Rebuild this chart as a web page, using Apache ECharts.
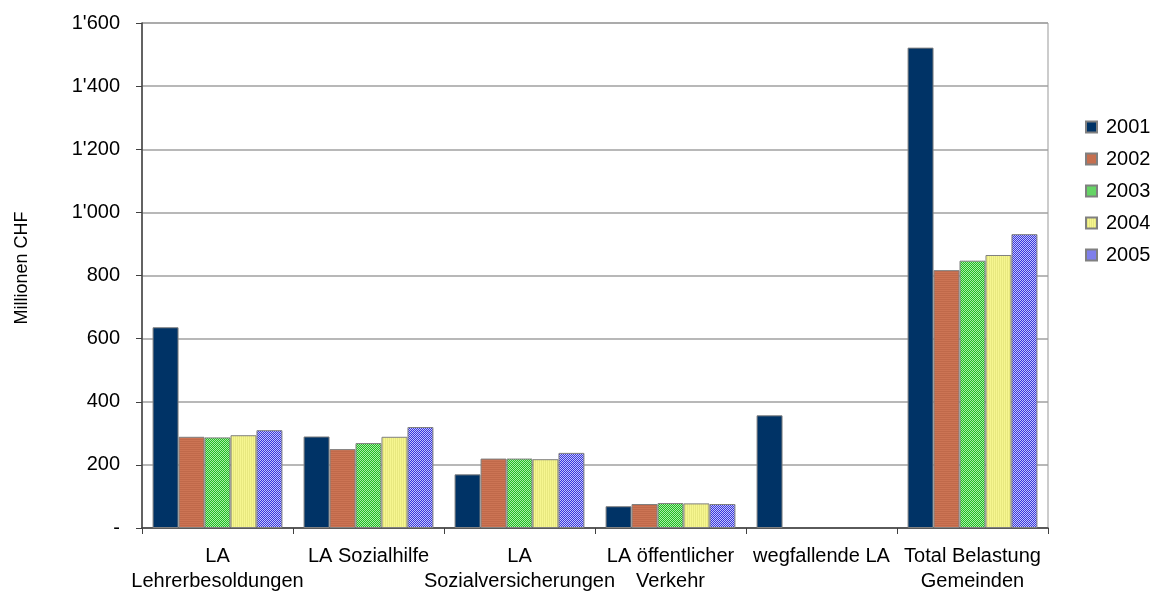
<!DOCTYPE html>
<html>
<head>
<meta charset="utf-8">
<script src="https://cdn.jsdelivr.net/npm/echarts@6/dist/echarts.min.js"></script>
<style>
  html, body { margin: 0; padding: 0; background: #fff; }
  #chart { width: 1153px; height: 594px; }
</style>
</head>
<body>
<div id="chart"></div>
<script>
// Kategorien der Lastenausgleiche (LA)
const categories = [
  'LA\nLehrerbesoldungen',
  'LA Sozialhilfe',
  'LA\nSozialversicherungen',
  'LA öffentlicher\nVerkehr',
  'wegfallende LA',
  'Total Belastung\nGemeinden'
];
const years = ['2001', '2002', '2003', '2004', '2005'];

// Belastung in Millionen CHF je Jahr
const values2001 = [636, 290, 170, 69, 357, 1522];
const values2002 = [289, 250, 220, 76, null, 817];
const values2003 = [287, 269, 220, 79, null, 847];
const values2004 = [294, 289, 218, 78, null, 865];
const values2005 = [310, 320, 238, 76, null, 931];

const yTicks = [0, 200, 400, 600, 800, 1000, 1200, 1400, 1600];

const FONT = 'Liberation Sans, Arial, sans-serif';

// small repeating fill patterns
function pattern(w, h, paint) {
  const c = document.createElement('canvas');
  c.width = w; c.height = h;
  const g = c.getContext('2d');
  paint(g);
  return { image: c, repeat: 'repeat' };
}
function checker(a, b) {
  return pattern(2, 2, g => {
    g.fillStyle = a; g.fillRect(0, 0, 2, 2);
    g.fillStyle = b; g.fillRect(0, 0, 1, 1); g.fillRect(1, 1, 1, 1);
  });
}
const fills = [
  '#003366',
  pattern(1, 2, g => {
    g.fillStyle = '#CC7454'; g.fillRect(0, 0, 1, 2);
    g.fillStyle = '#C0694A'; g.fillRect(0, 1, 1, 1);
  }),
  checker('#22BB22', '#A8EEA8'),
  pattern(2, 1, g => {
    g.fillStyle = '#F6F690'; g.fillRect(0, 0, 2, 1);
    g.fillStyle = '#E8E880'; g.fillRect(1, 0, 1, 1);
  }),
  checker('#3A3AD8', '#C4C4FF')
];
const seriesValues = [values2001, values2002, values2003, values2004, values2005];

function fmt(v) {
  if (v === 0) return '-';
  return String(v).replace(/\B(?=(\d{3})+(?!\d))/g, "'");
}

const chart = echarts.init(document.getElementById('chart'), null, { renderer: 'canvas' });
chart.setOption({
  animation: false,
  backgroundColor: '#fff',
  textStyle: { fontFamily: FONT },
  grid: {
    left: 142, right: 105, top: 23, bottom: 64,
    show: true, borderColor: '#999', borderWidth: 1
  },
  legend: {
    orient: 'vertical',
    left: 1085, top: 117, padding: 0,
    itemWidth: 11, itemHeight: 11, itemGap: 12,
    icon: 'rect',
    textStyle: { fontSize: 20, color: '#000', fontFamily: FONT, padding: [0, 0, 0, 4] },
    data: years
  },
  graphic: [{
    type: 'text',
    x: 22, y: 268,
    rotation: Math.PI / 2,
    style: {
      text: 'Millionen CHF',
      fontSize: 18,
      fontFamily: FONT,
      fill: '#000',
      align: 'center',
      verticalAlign: 'middle'
    }
  }],
  xAxis: {
    type: 'category',
    data: categories,
    axisLine: { lineStyle: { color: '#404040', width: 1.5 } },
    axisTick: { show: true, length: 6, interval: 0, lineStyle: { color: '#404040' } },
    axisLabel: {
      interval: 0, margin: 16, fontSize: 20, lineHeight: 25, color: '#000',
      fontFamily: FONT
    },
    splitLine: { show: false }
  },
  yAxis: {
    type: 'value',
    min: yTicks[0], max: yTicks[yTicks.length - 1], interval: 200,
    axisLine: { show: true, lineStyle: { color: '#404040', width: 1.5 } },
    axisTick: { show: true, length: 6, lineStyle: { color: '#404040' } },
    axisLabel: {
      margin: 22, fontSize: 20, color: '#000',
      fontFamily: FONT,
      formatter: fmt
    },
    splitLine: { lineStyle: { color: '#A0A0A0', width: 1.5 } }
  },
  series: years.map((y, i) => ({
    name: y,
    type: 'bar',
    data: seriesValues[i],
    barGap: '0%',
    barCategoryGap: '14%',
    itemStyle: { color: fills[i], borderColor: '#808080', borderWidth: 1 }
  }))
});
</script>
</body>
</html>
